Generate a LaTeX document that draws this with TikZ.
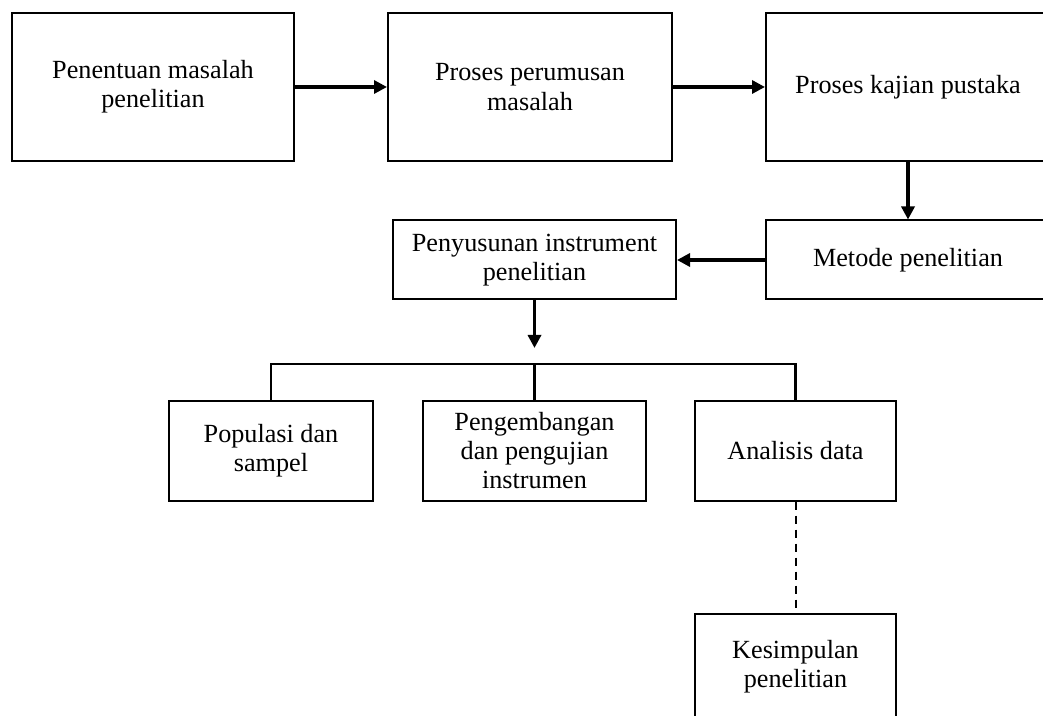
\documentclass[tikz,border=0pt]{standalone}
\usepackage{fontspec}
\setmainfont{Liberation Serif}
\usetikzlibrary{arrows.meta, positioning}

\begin{document}
\begin{tikzpicture}[x=0.5pt, y=-0.5pt,
    box/.style={draw, line width=1pt, align=center, inner sep=0pt,
      font=\fontsize{13.1}{14.6}\selectfont},
    wide/.style={minimum width=142pt},
    arr/.style={line width=1.6pt, -{Triangle[length=6.5pt, width=6.5pt]}},
    bus/.style={line width=1.4pt},
    link/.style={line width=1pt, dash pattern=on 4pt off 3pt}]
    % Page frame
    \fill[white] (0,0) rectangle (1043,716);
    \clip (0,0) rectangle (1043,716);

    % Top row
    \node[box, minimum width=141pt, minimum height=74pt] (tentu) at (153,87) {Penentuan masalah\\penelitian};
    \node[box, wide, minimum height=74pt] (rumus) at (530,87) {Proses perumusan\\masalah};
    \node[box, wide, minimum height=74pt] (kajian) at (908,87) {Proses kajian pustaka};

    % Second row
    \node[box, wide, minimum height=39.5pt] (metode) at (908,260) {Metode penelitian};
    \node[box, minimum width=141.5pt, minimum height=39.5pt] (susun) at (534.5,260) {Penyusunan instrument\\penelitian};

    % Third row
    \node[box, minimum width=102pt, minimum height=50pt] (populasi) at (271,450.5) {Populasi dan\\sampel};
    \node[box, minimum width=111.5pt, minimum height=50pt] (uji) at (534.5,450.5) {Pengembangan\\dan pengujian\\instrumen};
    \node[box, minimum width=100.5pt, minimum height=50pt] (analisis) at (795.5,450.5) {Analisis data};

    % Last box, cut by the page edge
    \node[box, minimum width=100.5pt, minimum height=53pt] (simpul) at (795.5,667) {Kesimpulan\\penelitian};

    % Flow arrows
    \draw[arr] (tentu.east) -- (tentu.east -| rumus.west);
    \draw[arr] (rumus.east) -- (rumus.east -| kajian.west);
    \draw[arr] (kajian.south) -- (metode.north);
    \draw[arr] (metode.west) -- (susun.east);
    \coordinate (tip) at (534.5,348);
    \draw[arr] (susun.south) -- (tip);

    % Branches
    \coordinate (hub) at (534.5,364);
    \draw[bus] (populasi.north) |- (hub) -| (analisis.north);
    \draw[bus] (hub) -- (uji.north);
    \draw[link] (analisis.south) -- (simpul.north);
\end{tikzpicture}
\end{document}
